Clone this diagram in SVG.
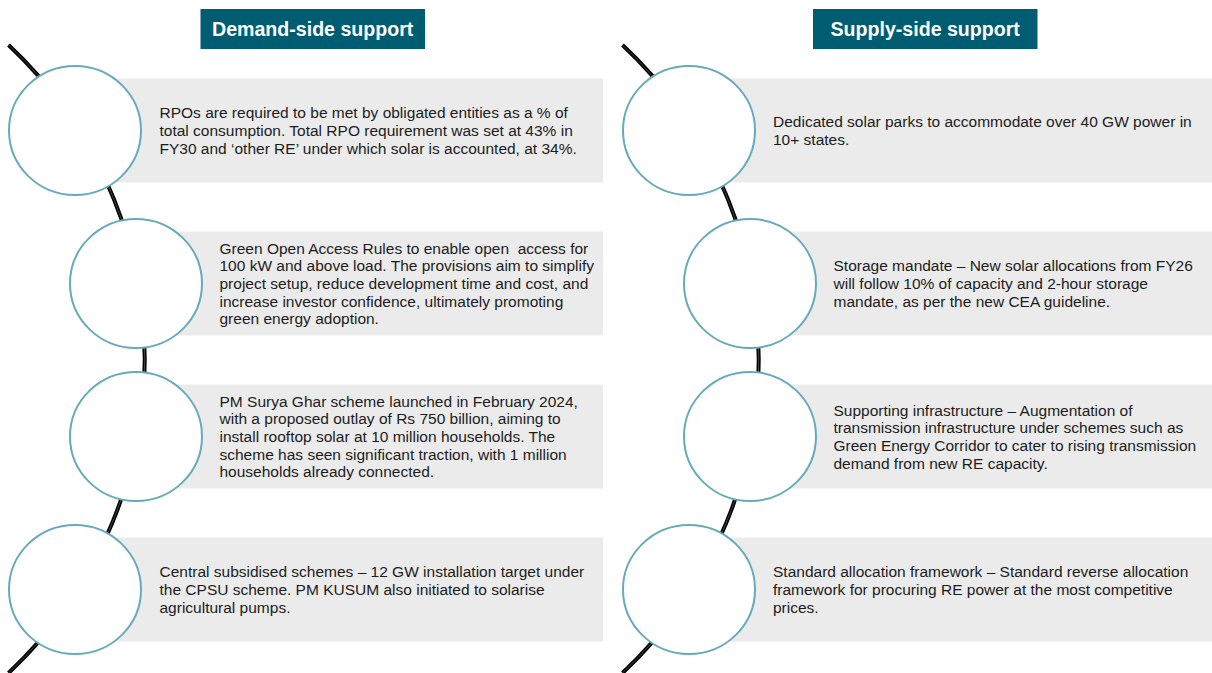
<svg xmlns="http://www.w3.org/2000/svg" width="1212" height="673" viewBox="0 0 1212 673">
<style>
.hdr{fill:#005c71}
.hdrt{font-family:"Liberation Sans",Arial,sans-serif;font-weight:bold;font-size:19.6px;fill:#ffffff;text-anchor:middle}
.band{fill:#ebebeb}
.ring{fill:#ffffff;stroke:#67aabb;stroke-width:2}
.body{font-family:"Liberation Sans",Arial,sans-serif;font-size:15.5px;fill:#1c1c1c}
.arc{fill:none;stroke:#000000;stroke-width:4}
.arcin{fill:none;stroke:#555555;stroke-width:0.8}
</style>
<rect width="1212" height="673" fill="#ffffff"/>
<g id="connectors">
<path class="arc" d="M 8.5 45 A 430 430 0 0 1 8.5 673"/>
<path class="arcin" d="M 8.5 45 A 430 430 0 0 1 8.5 673"/>
<path class="arc" d="M 622.5 45 A 430 430 0 0 1 622.5 673"/>
<path class="arcin" d="M 622.5 45 A 430 430 0 0 1 622.5 673"/>
</g>
<g id="header-demand">
<rect class="hdr" x="200.5" y="9" width="224.5" height="40"/>
<text class="hdrt" x="312.7" y="36">Demand-side support</text>
</g>
<g id="header-supply">
<rect class="hdr" x="813" y="9" width="224.5" height="40"/>
<text class="hdrt" x="925.2" y="36">Supply-side support</text>
</g>
<g id="d1">
<rect class="band" x="75" y="78.5" width="528" height="104"/>
<ellipse class="ring" cx="75" cy="130.5" rx="66" ry="64.5"/>
<text class="body" x="159.5" y="118.3"><tspan x="159.5">RPOs are required to be met by obligated entities as a % of</tspan><tspan x="159.5" dy="17.7">total consumption. Total RPO requirement was set at 43% in</tspan><tspan x="159.5" dy="17.7">FY30 and ‘other RE’ under which solar is accounted, at 34%.</tspan></text>
</g>
<g id="d2">
<rect class="band" x="136" y="231.5" width="467" height="104"/>
<ellipse class="ring" cx="136" cy="283.5" rx="66" ry="64.5"/>
<text class="body" x="219.5" y="253.6"><tspan x="219.5">Green Open Access Rules to enable open&#160; access for</tspan><tspan x="219.5" dy="17.7">100 kW and above load. The provisions aim to simplify</tspan><tspan x="219.5" dy="17.7">project setup, reduce development time and cost, and</tspan><tspan x="219.5" dy="17.7">increase investor confidence, ultimately promoting</tspan><tspan x="219.5" dy="17.7">green energy adoption.</tspan></text>
</g>
<g id="d3">
<rect class="band" x="136" y="384.5" width="467" height="104"/>
<ellipse class="ring" cx="136" cy="436.5" rx="66" ry="64.5"/>
<text class="body" x="219.5" y="406.6"><tspan x="219.5">PM Surya Ghar scheme launched in February 2024,</tspan><tspan x="219.5" dy="17.7">with a proposed outlay of Rs 750 billion, aiming to</tspan><tspan x="219.5" dy="17.7">install rooftop solar at 10 million households. The</tspan><tspan x="219.5" dy="17.7">scheme has seen significant traction, with 1 million</tspan><tspan x="219.5" dy="17.7">households already connected.</tspan></text>
</g>
<g id="d4">
<rect class="band" x="75" y="537.5" width="528" height="104"/>
<ellipse class="ring" cx="75" cy="589.5" rx="66" ry="64.5"/>
<text class="body" x="159.5" y="577.3"><tspan x="159.5">Central subsidised schemes – 12 GW installation target under</tspan><tspan x="159.5" dy="17.7">the CPSU scheme. PM KUSUM also initiated to solarise</tspan><tspan x="159.5" dy="17.7">agricultural pumps.</tspan></text>
</g>
<g id="s1">
<rect class="band" x="689" y="78.5" width="523" height="104"/>
<ellipse class="ring" cx="689" cy="130.5" rx="66" ry="64.5"/>
<text class="body" x="773" y="127.2"><tspan x="773">Dedicated solar parks to accommodate over 40 GW power in</tspan><tspan x="773" dy="17.7">10+ states.</tspan></text>
</g>
<g id="s2">
<rect class="band" x="750" y="231.5" width="462" height="104"/>
<ellipse class="ring" cx="750" cy="283.5" rx="66" ry="64.5"/>
<text class="body" x="833.5" y="271.3"><tspan x="833.5">Storage mandate – New solar allocations from FY26</tspan><tspan x="833.5" dy="17.7">will follow 10% of capacity and 2-hour storage</tspan><tspan x="833.5" dy="17.7">mandate, as per the new CEA guideline.</tspan></text>
</g>
<g id="s3">
<rect class="band" x="750" y="384.5" width="462" height="104"/>
<ellipse class="ring" cx="750" cy="436.5" rx="66" ry="64.5"/>
<text class="body" x="833.5" y="415.5"><tspan x="833.5">Supporting infrastructure – Augmentation of</tspan><tspan x="833.5" dy="17.7">transmission infrastructure under schemes such as</tspan><tspan x="833.5" dy="17.7">Green Energy Corridor to cater to rising transmission</tspan><tspan x="833.5" dy="17.7">demand from new RE capacity.</tspan></text>
</g>
<g id="s4">
<rect class="band" x="689" y="537.5" width="523" height="104"/>
<ellipse class="ring" cx="689" cy="589.5" rx="66" ry="64.5"/>
<text class="body" x="773" y="577.3"><tspan x="773">Standard allocation framework – Standard reverse allocation</tspan><tspan x="773" dy="17.7">framework for procuring RE power at the most competitive</tspan><tspan x="773" dy="17.7">prices.</tspan></text>
</g>
</svg>
